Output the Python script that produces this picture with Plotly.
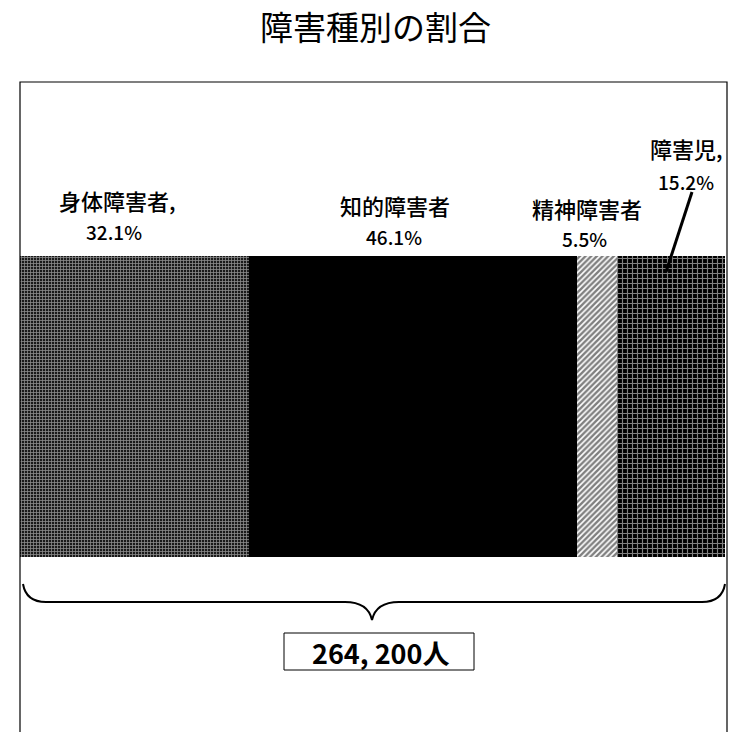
import plotly.graph_objects as go

# ---- data ----
categories = ["身体障害者", "知的障害者", "精神障害者", "障害児"]
shares = [32.1, 46.1, 5.5, 15.2]
name_texts = ["身体障害者,", "知的障害者", "精神障害者", "障害児,"]
pct_texts = ["32.1%", "46.1%", "5.5%", "15.2%"]
total_label = "264, 200人"
title_text = "障害種別の割合"

W, H = 729, 732
FONT = "Noto Sans CJK JP"


def px(x):
    return x / W


def py(y):
    return 1 - y / H


patterns = [
    dict(shape="+", fgcolor="white", bgcolor="#1a1a1a", size=3, solidity=0.45),
    None,
    dict(shape="/", fgcolor="black", bgcolor="white", size=4, solidity=0.6),
    dict(shape="+", fgcolor="white", bgcolor="black", size=5, solidity=0.4),
]
colors = ["#1a1a1a", "black", "white", "black"]

fig = go.Figure()
for cat, val, pat, col in zip(categories, shares, patterns, colors):
    marker = dict(color=col, line=dict(width=0))
    if pat is not None:
        marker["pattern"] = pat
    fig.add_trace(go.Bar(
        x=[val], y=[0], orientation="h", name=cat, marker=marker,
        width=1, hoverinfo="name+x",
    ))

total = sum(shares)

shapes = []
# frame
shapes.append(dict(type="rect", xref="paper", yref="paper",
                   x0=px(20), x1=px(727), y0=py(82), y1=py(760),
                   line=dict(color="black", width=1.2), fillcolor="rgba(0,0,0,0)", layer="above"))
# brace
path = "M {:.5f},{:.5f}".format(px(23), py(584))
path += " Q {:.5f},{:.5f} {:.5f},{:.5f}".format(px(26), py(602), px(46), py(602))
path += " L {:.5f},{:.5f}".format(px(345), py(602))
path += " Q {:.5f},{:.5f} {:.5f},{:.5f}".format(px(368), py(602), px(372), py(620))
path += " Q {:.5f},{:.5f} {:.5f},{:.5f}".format(px(376), py(602), px(399), py(602))
path += " L {:.5f},{:.5f}".format(px(702), py(602))
path += " Q {:.5f},{:.5f} {:.5f},{:.5f}".format(px(722), py(602), px(725), py(584))
shapes.append(dict(type="path", xref="paper", yref="paper", path=path,
                   line=dict(color="black", width=2)))
# total box
shapes.append(dict(type="rect", xref="paper", yref="paper",
                   x0=px(284), x1=px(474), y0=py(633), y1=py(670),
                   line=dict(color="black", width=1), fillcolor="white"))
# leader line for 障害児
shapes.append(dict(type="line", xref="paper", yref="paper",
                   x0=px(692), y0=py(192), x1=px(666), y1=py(272),
                   line=dict(color="black", width=3), layer="above"))

name_pos = [(117, 200), (395, 205), (587, 208), (686, 148)]
pct_pos = [(114, 231), (394, 236), (584, 239), (686, 181)]
annotations = []
for txt, (lx, ly) in zip(name_texts, name_pos):
    annotations.append(dict(text=txt, xref="paper", yref="paper", x=px(lx), y=py(ly),
                            xanchor="center", yanchor="middle", showarrow=False, borderpad=0,
                            font=dict(family=FONT, size=22, color="black", weight=500)))
for txt, (lx, ly) in zip(pct_texts, pct_pos):
    annotations.append(dict(text=txt, xref="paper", yref="paper", x=px(lx), y=py(ly),
                            xanchor="center", yanchor="middle", showarrow=False, borderpad=0,
                            font=dict(family=FONT, size=19, color="black", weight=500)))
annotations.append(dict(text="<b>" + total_label + "</b>", xref="paper", yref="paper",
                        x=px(380), y=py(652), xanchor="center", yanchor="middle",
                        showarrow=False, font=dict(family=FONT, size=27, color="black")))
annotations.append(dict(text=title_text, xref="paper", yref="paper",
                        x=px(376), y=py(26), xanchor="center", yanchor="middle",
                        showarrow=False, font=dict(family=FONT, size=33, color="black")))

fig.update_layout(
    width=W, height=H,
    margin=dict(l=0, r=0, t=0, b=0),
    barmode="stack",
    showlegend=False,
    paper_bgcolor="white",
    plot_bgcolor="white",
    xaxis=dict(range=[0, total], domain=[px(20), px(725)], visible=False, fixedrange=True),
    yaxis=dict(range=[-0.5, 0.5], domain=[py(557), py(256)], visible=False, fixedrange=True),
    shapes=shapes,
    annotations=annotations,
    bargap=0,
)

fig.write_html("out.html", config={"displayModeBar": False},
               post_script="document.body.style.margin='0px';document.body.style.overflow='hidden';")
